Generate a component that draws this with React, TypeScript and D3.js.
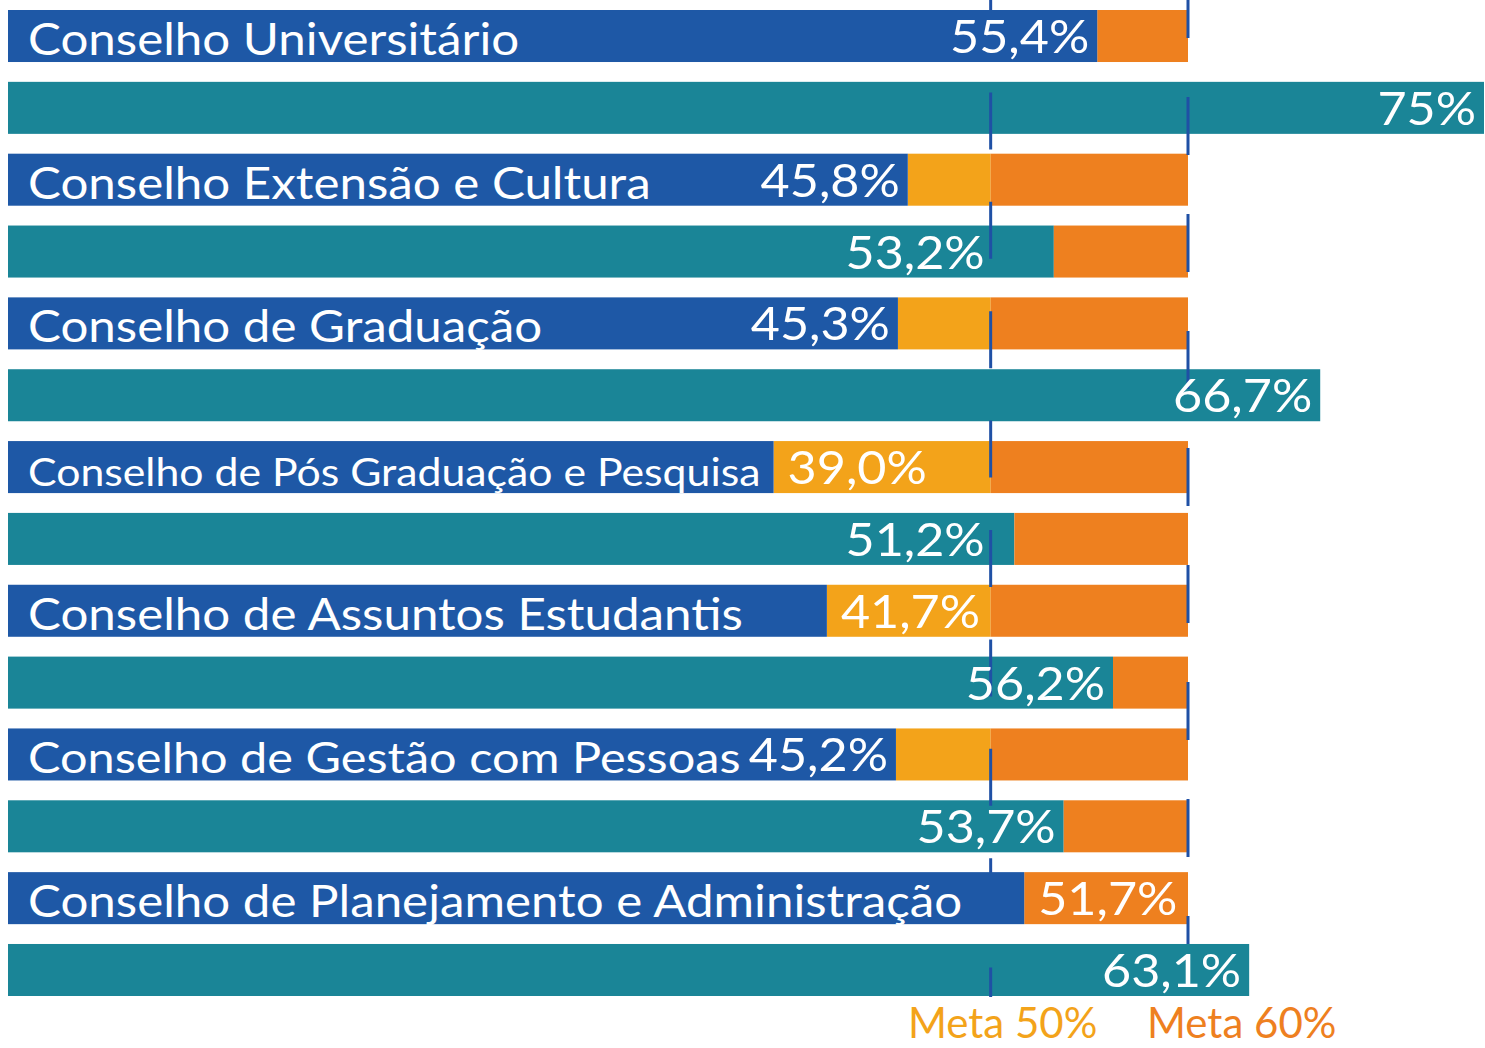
import React from "react";
import * as d3 from "d3";

// ---- data ----
const categories = [
  "Conselho Universitário",
  "Conselho Extensão e Cultura",
  "Conselho de Graduação",
  "Conselho de Pós Graduação e Pesquisa",
  "Conselho de Assuntos Estudantis",
  "Conselho de Gestão com Pessoas",
  "Conselho de Planejamento e Administração",
];
const seriesBlue = [55.4, 45.8, 45.3, 39.0, 41.7, 45.2, 51.7];
const seriesTeal = [75, 53.2, 66.7, 51.2, 56.2, 53.7, 63.1];
const labelsBlue = ["55,4%", "45,8%", "45,3%", "39,0%", "41,7%", "45,2%", "51,7%"];
const labelsTeal = ["75%", "53,2%", "66,7%", "51,2%", "56,2%", "53,7%", "63,1%"];
// where the value label sits: inside the bar end, after the bar end, or before the 50% goal
const placeBlue = ["in", "in", "in", "after", "after", "in", "after"];
const placeTeal = ["in", "before50", "in", "before50", "in", "in", "in"];
const metas = [50, 60];
const metaLabels = ["Meta 50%", "Meta 60%"];

const W = 1485;
const H = 1048;
const LEFT = 8;
const NAME_X = 28;
const NAME_SIZE = 44;
const NAME_STRETCH = 1.12;
const VALUE_SIZE = 47;
const VALUE_STRETCH = 1.07;
const COLORS = {
  blue: "#1e58a6",
  teal: "#1a8597",
  amber: "#f3a31a",
  orange: "#ee801f",
  line: "#1f50a5",
};
const FONT = "Lato, 'Open Sans', sans-serif";

type Row = { key: string; kind: "blue" | "teal"; cat: number; value: number; label: string; place: string };

const rows: Row[] = [];
categories.forEach((c, i) => {
  rows.push({ key: `b${i}`, kind: "blue", cat: i, value: seriesBlue[i], label: labelsBlue[i], place: placeBlue[i] });
  rows.push({ key: `t${i}`, kind: "teal", cat: i, value: seriesTeal[i], label: labelsTeal[i], place: placeTeal[i] });
});

let measureCtx: CanvasRenderingContext2D | null = null;
function measure(text: string, size: number): number {
  if (!measureCtx) {
    const c = document.createElement("canvas");
    measureCtx = c.getContext("2d");
  }
  if (!measureCtx) return text.length * size * 0.5;
  measureCtx.font = `${size}px Lato`;
  return measureCtx.measureText(text).width;
}

export default function App() {
  const x = d3.scaleLinear().domain([0, 75]).range([4, 1484]);
  const y = d3
    .scaleBand<string>()
    .domain(rows.map((r) => r.key))
    .range([10, 996])
    .paddingInner(0.276)
    .paddingOuter(0);
  const bw = y.bandwidth();
  const [m50, m60] = metas;

  const labelX = (r: Row) => {
    if (r.place === "after") return { x: x(r.value) + 14, anchor: "start" };
    if (r.place === "before50") return { x: x(m50) - 6, anchor: "end" };
    return { x: x(r.value) - 8, anchor: "end" };
  };

  return (
    <svg width={W} height={H} style={{ position: "absolute", left: 0, top: 0, background: "#fff" }}>
      {/* teal bars */}
      {rows
        .filter((r) => r.kind === "teal")
        .map((r) => (
          <rect key={r.key} x={LEFT} y={y(r.key)} width={x(r.value) - LEFT} height={bw} fill={COLORS.teal} />
        ))}
      {/* remainder to goals */}
      {rows.map((r) => (
        <g key={"rem" + r.key}>
          {r.value < m50 && (
            <rect x={x(r.value)} y={y(r.key)} width={x(m50) - x(r.value)} height={bw} fill={COLORS.amber} />
          )}
          {r.value < m60 && (
            <rect
              x={x(Math.max(r.value, m50))}
              y={y(r.key)}
              width={x(m60) - x(Math.max(r.value, m50))}
              height={bw}
              fill={COLORS.orange}
            />
          )}
        </g>
      ))}
      {/* goal lines */}
      <line
        x1={x(m50)}
        x2={x(m50)}
        y1={-17}
        y2={997}
        stroke={COLORS.line}
        strokeWidth={3}
        strokeDasharray="57 52.4"
      />
      <line
        x1={x(m60)}
        x2={x(m60)}
        y1={-20}
        y2={944}
        stroke={COLORS.line}
        strokeWidth={3}
        strokeDasharray="58 59"
      />
      {/* blue bars */}
      {rows
        .filter((r) => r.kind === "blue")
        .map((r) => (
          <rect key={r.key} x={LEFT} y={y(r.key)} width={x(r.value) - LEFT} height={bw} fill={COLORS.blue} />
        ))}
      {/* category names */}
      {rows
        .filter((r) => r.kind === "blue")
        .map((r) => {
          const name = categories[r.cat];
          const natural = measure(name, NAME_SIZE) * NAME_STRETCH;
          let limit = x(r.value) - 13;
          if (r.place === "in") {
            limit = x(r.value) - 8 - measure(r.label, VALUE_SIZE) * VALUE_STRETCH - 8;
          }
          const avail = limit - NAME_X;
          const size = natural > avail ? (NAME_SIZE * avail) / natural : NAME_SIZE;
          return (
            <text
              key={"n" + r.key}
              transform={`translate(${NAME_X},${(y(r.key) as number) + 45}) scale(${NAME_STRETCH},1)`}
              fill="#fff"
              fontFamily={FONT}
              fontSize={size}
            >
              {name}
            </text>
          );
        })}
      {/* value labels */}
      {rows.map((r) => {
        const p = labelX(r);
        return (
          <text
            key={"v" + r.key}
            transform={`translate(${p.x},${(y(r.key) as number) + 43}) scale(${VALUE_STRETCH},1)`}
            textAnchor={p.anchor as any}
            fill="#fff"
            fontFamily={FONT}
            fontSize={VALUE_SIZE}
          >
            {r.label}
          </text>
        );
      })}
      {/* goal labels */}
      <text x={x(m50) + 12} y={1038} textAnchor="middle" fill={COLORS.amber} fontFamily={FONT} fontSize={42}>
        {metaLabels[0]}
      </text>
      <text x={x(m60) - 41} y={1038} textAnchor="start" fill={COLORS.orange} fontFamily={FONT} fontSize={42}>
        {metaLabels[1]}
      </text>
    </svg>
  );
}
